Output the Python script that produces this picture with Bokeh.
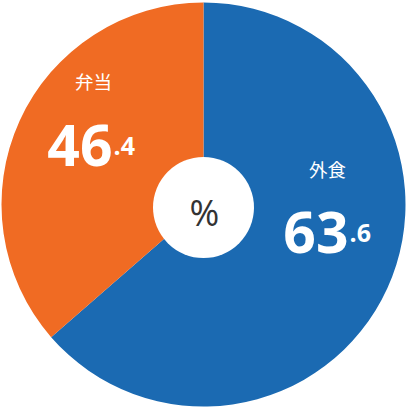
import math
from bokeh.plotting import figure
from bokeh.models import Range1d
from bokeh.core.properties import value
from bokeh.embed import file_html
from bokeh.resources import INLINE

# ---- data ----
categories = ["外食", "弁当"]
values = [63.6, 46.4]
colors = ["#1B6AB2", "#F06B23"]
unit_label = "%"

W, H = 407, 408
p = figure(width=W, height=H, output_backend="svg", toolbar_location=None,
           x_range=Range1d(0, W), y_range=Range1d(0, H), min_border=0,
           background_fill_color="white", border_fill_color="white")
p.axis.visible = False
p.grid.visible = False
p.outline_line_color = None

cx, cy, R = 203, 204, 202
# blue slice: share of 100% starting at 12 o'clock going clockwise; orange fills the rest
start = math.pi / 2
blue_end = start - values[0] / 100 * 2 * math.pi
p.wedge(x=[cx], y=[cy], radius=R, start_angle=[start], end_angle=[blue_end],
        direction="clock", fill_color=colors[0], line_color=None)
p.wedge(x=[cx], y=[cy], radius=R, start_angle=[blue_end], end_angle=[start - 2 * math.pi],
        direction="clock", fill_color=colors[1], line_color=None)

# center hole
p.circle(x=[cx], y=[cy - 3], radius=50.5, fill_color="white", line_color=None)
p.text(x=[cx + 1], y=[cy - 8], text=[unit_label], text_align="center", text_baseline="middle",
       text_font=value("Open Sans"), text_font_size="36px", text_color="#333333",
       text_font_style="normal")

# labels
name_pos = [(327, 240), (93, 328)]
num_pos = [(348, 176), (112, 263)]
for i, cat in enumerate(categories):
    v = values[i]
    ip, dp = f"{v:.1f}".split(".")
    nx, ny = name_pos[i]
    p.text(x=[nx], y=[ny], text=[cat], text_align="center", text_baseline="middle",
           text_font=value("Noto Sans CJK JP"), text_font_size="18.5px", text_color="white")
    x0, y0 = num_pos[i]
    p.text(x=[x0], y=[y0], text=[ip], text_align="right", text_baseline="alphabetic",
           text_font=value("Open Sans"), text_font_size="57px", text_font_style="bold",
           text_color="white")
    p.text(x=[x0 + 1], y=[y0], text=["." + dp], text_align="left", text_baseline="alphabetic",
           text_font=value("Open Sans"), text_font_size="25px", text_font_style="bold",
           text_color="white")

open("out.html", "w").write(file_html(p, INLINE))
